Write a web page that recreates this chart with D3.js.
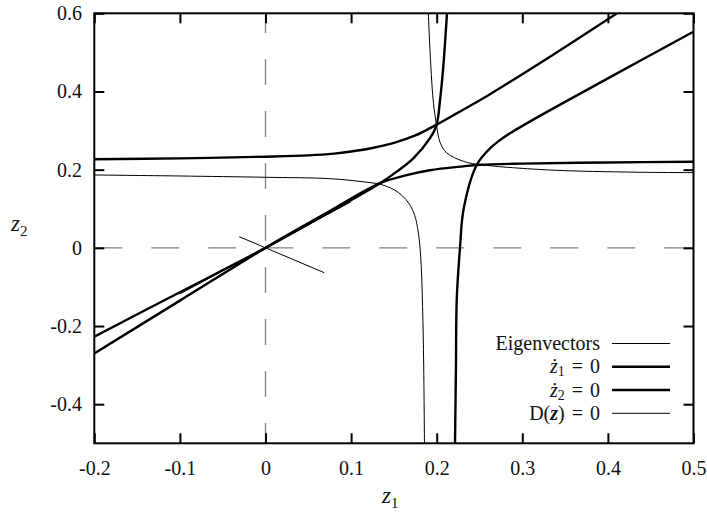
<!DOCTYPE html>
<html>
<head>
<meta charset="utf-8">
<script src="https://cdn.jsdelivr.net/npm/d3@7"></script>
<style>
  body { margin: 0; background: white; }
  svg text { font-family: 'Liberation Serif', 'DejaVu Serif', serif; }
</style>
</head>
<body>
<script>
// 目盛り
const xTicks = [-0.2, -0.1, 0, 0.1, 0.2, 0.3, 0.4, 0.5];
const yTicks = [-0.4, -0.2, 0, 0.2, 0.4, 0.6];

// 原点での固有ベクトル
const eigenShort = [[-0.0307, 0.0285], [0.0687, -0.0636]];
const eigenLong = [[-0.1, -0.118], [0.1, 0.118]];

// ż1 = 0 (上の枝 / 下の枝)
const z1Upper = [[-0.2, 0.2265], [-0.1, 0.229], [0, 0.2332], [0.05, 0.2365], [0.08, 0.241],
  [0.1, 0.2465], [0.125, 0.2555], [0.15, 0.2685], [0.175, 0.2875], [0.199, 0.314],
  [0.225, 0.346], [0.2623, 0.393], [0.336, 0.494], [0.4106, 0.6]];
const z1Lower = [[-0.2, -0.27], [-0.1, -0.135], [0, 0], [0.07, 0.0875], [0.1338, 0.1655],
  [0.165, 0.186], [0.192, 0.1985], [0.231, 0.2085], [0.2506, 0.2125], [0.3, 0.2155],
  [0.4, 0.2185], [0.5, 0.2204]];

// ż2 = 0 (左の枝 / 右の枝)
const z2Left = [[-0.2, -0.227], [-0.1, -0.1135], [0, 0], [0.07, 0.085], [0.1338, 0.165],
  [0.1533, 0.195], [0.1727, 0.229], [0.192, 0.28], [0.1998, 0.314], [0.2039, 0.378],
  [0.2077, 0.4634], [0.212, 0.6]];
const z2Right = [[0.2214, -0.5], [0.2225, -0.3], [0.2234, -0.133], [0.2272, 0], [0.2315, 0.1],
  [0.2467, 0.212], [0.2623, 0.2546], [0.2735, 0.275], [0.2856, 0.293], [0.32, 0.337],
  [0.4, 0.4335], [0.4993, 0.552]];

// D(z) = 0
const detLeft = [[-0.2, 0.1864], [-0.1, 0.1838], [0, 0.1805], [0.075, 0.177], [0.114, 0.169],
  [0.134, 0.1625], [0.15, 0.149], [0.16, 0.133], [0.168, 0.112], [0.174, 0.085],
  [0.1785, 0.04], [0.1815, -0.03], [0.1835, -0.15], [0.1848, -0.3], [0.1857, -0.5]];
const detRight = [[0.1902, 0.6], [0.193, 0.47], [0.1962, 0.37], [0.1998, 0.314], [0.2039, 0.27],
  [0.2117, 0.243], [0.231, 0.2215], [0.2467, 0.214], [0.3285, 0.1995], [0.4337, 0.1935], [0.5, 0.1925]];

const width = 707;
const height = 517;
const margin = { top: 13.3, right: 13.5, bottom: 73.7, left: 94.3 };

const svg = d3.select("body")
  .append("svg")
  .attr("width", width)
  .attr("height", height)
  .style("background", "white");

const x = d3.scaleLinear().domain([-0.2, 0.5]).range([margin.left, width - margin.right]);
const y = d3.scaleLinear().domain([-0.5, 0.6]).range([height - margin.bottom, margin.top]);

// クリップ
svg.append("defs").append("clipPath")
  .attr("id", "plot")
  .append("rect")
  .attr("x", x(-0.2))
  .attr("y", y(0.6))
  .attr("width", x(0.5) - x(-0.2))
  .attr("height", y(-0.5) - y(0.6));

// 原点の破線
svg.append("line")
  .attr("x1", x(-0.2)).attr("y1", y(0))
  .attr("x2", x(0.5)).attr("y2", y(0))
  .attr("stroke", "#808080")
  .attr("stroke-width", 1.3)
  .attr("stroke-dasharray", "28,29");
svg.append("line")
  .attr("x1", x(0)).attr("y1", y(0.6))
  .attr("x2", x(0)).attr("y2", y(-0.5))
  .attr("stroke", "#808080")
  .attr("stroke-width", 1.3)
  .attr("stroke-dasharray", "26,26")
  .attr("stroke-dashoffset", 6.3);

// 曲線
const line = d3.line()
  .x(d => x(d[0]))
  .y(d => y(d[1]))
  .curve(d3.curveCatmullRom.alpha(0.5));

const curves = [
  { data: eigenShort, w: 1 },
  { data: eigenLong, w: 1 },
  { data: detLeft, w: 1 },
  { data: detRight, w: 1 },
  { data: z1Upper, w: 2.4 },
  { data: z1Lower, w: 2.4 },
  { data: z2Left, w: 2.4 },
  { data: z2Right, w: 2.4 }
];

const g = svg.append("g").attr("clip-path", "url(#plot)");
curves.forEach(c => {
  g.append("path")
    .attr("d", line(c.data))
    .attr("fill", "none")
    .attr("stroke", "#000")
    .attr("stroke-width", c.w)
    .attr("stroke-linejoin", "round");
});

// 軸
const fmt = d => String(d);
const styleAxis = sel => {
  sel.attr("font-family", null).attr("font-size", null);
  sel.select(".domain").remove();
  sel.selectAll(".tick line").attr("stroke", "#000").attr("stroke-width", 2);
  sel.selectAll(".tick text")
    .attr("fill", "#111")
    .style("font-family", "'Liberation Serif', 'DejaVu Serif', serif")
    .style("font-size", "20px");
};

svg.append("g")
  .attr("transform", `translate(0,${y(-0.5)})`)
  .call(d3.axisBottom(x).tickValues(xTicks).tickSize(-10).tickPadding(17.5).tickFormat(fmt))
  .call(styleAxis);
svg.append("g")
  .attr("transform", `translate(0,${y(0.6)})`)
  .call(d3.axisTop(x).tickValues(xTicks).tickSize(-10).tickFormat(""))
  .call(styleAxis);
svg.append("g")
  .attr("transform", `translate(${x(-0.2)},0)`)
  .call(d3.axisLeft(y).tickValues(yTicks).tickSize(-10).tickPadding(12.3).tickFormat(fmt))
  .call(styleAxis);
svg.append("g")
  .attr("transform", `translate(${x(0.5)},0)`)
  .call(d3.axisRight(y).tickValues(yTicks).tickSize(-10).tickFormat(""))
  .call(styleAxis);

// 枠
svg.append("rect")
  .attr("x", x(-0.2))
  .attr("y", y(0.6))
  .attr("width", x(0.5) - x(-0.2))
  .attr("height", y(-0.5) - y(0.6))
  .attr("fill", "none")
  .attr("stroke", "#000")
  .attr("stroke-width", 2);

// 軸ラベル
const z1Label = svg.append("text")
  .attr("x", 382)
  .attr("y", 503)
  .attr("fill", "#111");
z1Label.append("tspan").attr("font-style", "italic").attr("font-size", "23px").text("z");
z1Label.append("tspan").attr("font-size", "15px").attr("dy", 5).text("1");

const z2Label = svg.append("text")
  .attr("x", 11)
  .attr("y", 231)
  .attr("fill", "#111");
z2Label.append("tspan").attr("font-style", "italic").attr("font-size", "23px").text("z");
z2Label.append("tspan").attr("font-size", "15px").attr("dy", 5).text("2");

// 凡例
const legendNames = ["Eigenvectors", "ż1 = 0", "ż2 = 0", "D(z) = 0"];
const legendWidths = [1, 2.6, 2.6, 1];
const ly = d3.scaleLinear().domain([0, 3]).range([343.5, 413.3]);

legendNames.forEach((name, i) => {
  const t = svg.append("text")
    .attr("x", 600)
    .attr("y", ly(i))
    .attr("dy", "0.33em")
    .attr("text-anchor", "end")
    .attr("fill", "#111")
    .style("font-size", "20px");
  if (i === 0) {
    t.text(name);
  } else {
    if (i < 3) {
      t.append("tspan").attr("font-style", "italic").text("ż");
      t.append("tspan").attr("font-size", "14px").attr("dy", 3).text(name[1]);
      t.append("tspan").attr("dy", -3).attr("dx", 7).text("=");
    } else {
      t.append("tspan").text("D(");
      t.append("tspan").attr("font-style", "italic").attr("font-weight", "bold").text("z");
      t.append("tspan").text(")");
      t.append("tspan").attr("dx", 7).text("=");
    }
    t.append("tspan").attr("dx", 7).text("0");
  }
  svg.append("line")
    .attr("x1", 612).attr("x2", 670)
    .attr("y1", ly(i)).attr("y2", ly(i))
    .attr("stroke", "#000")
    .attr("stroke-width", legendWidths[i]);
});
</script>
</body>
</html>
